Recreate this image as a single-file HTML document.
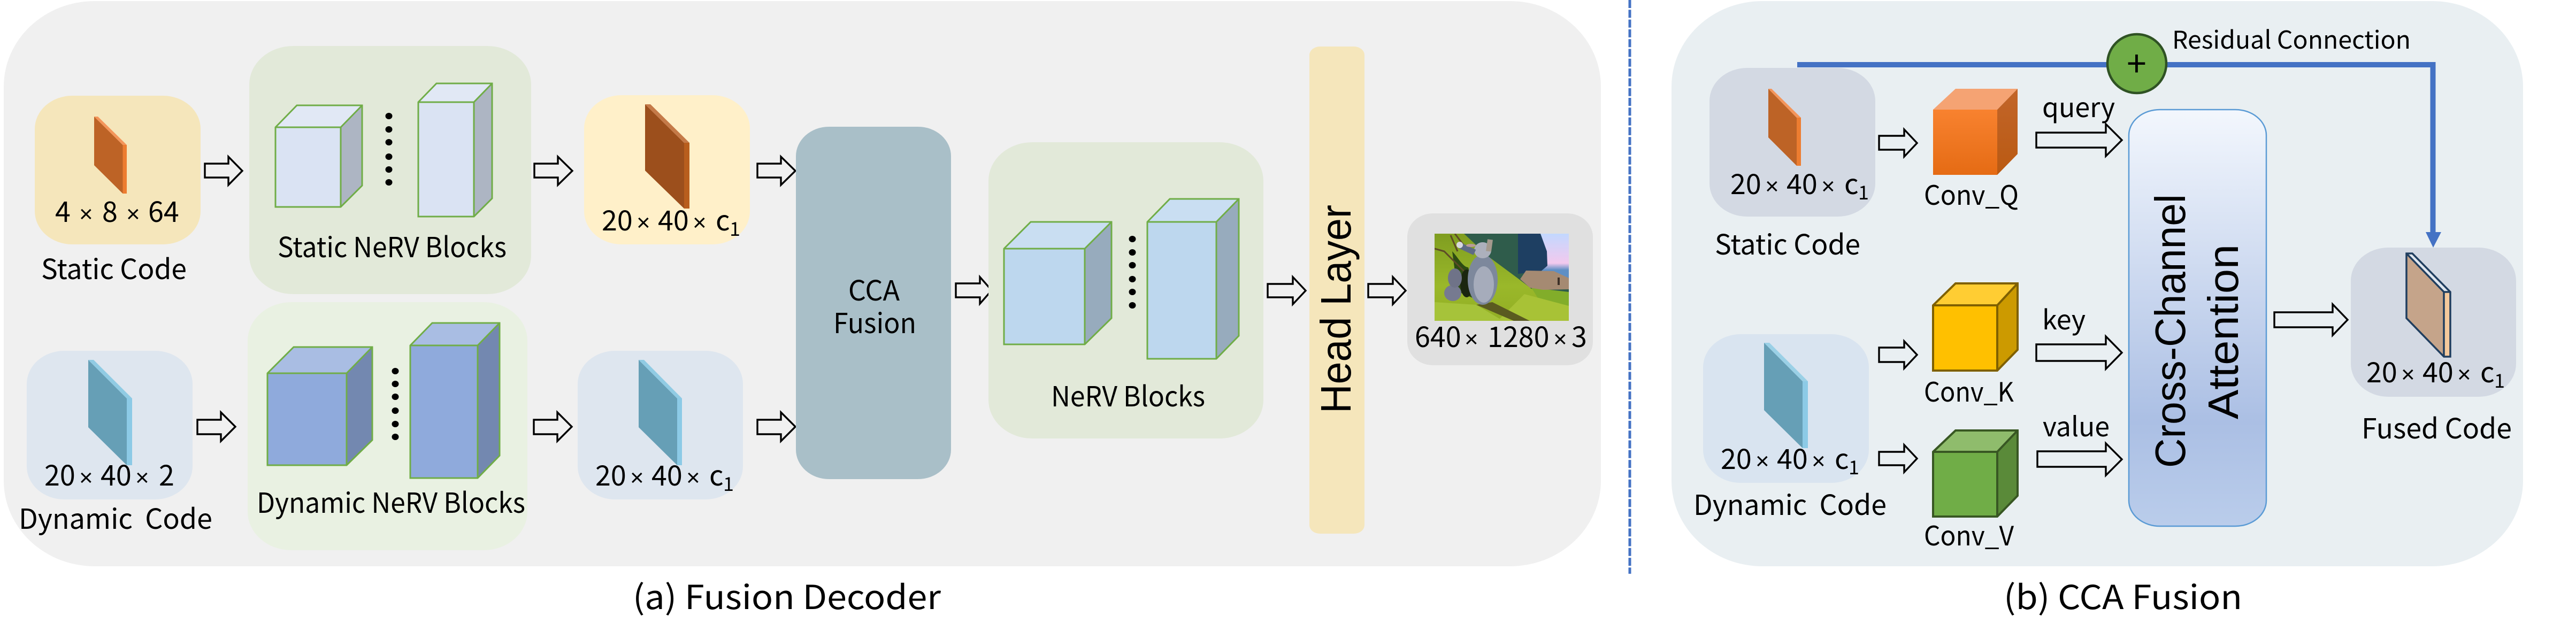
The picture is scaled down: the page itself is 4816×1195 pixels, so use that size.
<!DOCTYPE html>
<html><head><meta charset="utf-8"><style>
html,body{margin:0;padding:0;background:#fff;width:4816px;height:1195px;overflow:hidden}
svg{display:block}
text{font-family:"Noto Sans CJK SC","Liberation Sans",sans-serif;fill:#000;white-space:pre}
.l{font-size:52px}.s{font-size:36px}.m{font-size:50px}.c{font-size:62px}
.x{font-size:44px;font-family:"Liberation Sans",sans-serif}
.r{font-family:"Liberation Sans",sans-serif;font-size:80px}
.a{fill:none;stroke:#000;stroke-width:3.4}
.cg{stroke:#70ad47;stroke-width:3;stroke-linejoin:miter}
</style></head><body>
<svg xmlns="http://www.w3.org/2000/svg" width="4816" height="1195" viewBox="0 0 4816 1195">
<defs>
<linearGradient id="att" x1="0" y1="0" x2="0" y2="1"><stop offset="0" stop-color="#f3f7fd"/><stop offset=".75" stop-color="#abbfe4"/><stop offset="1" stop-color="#bacdeb"/></linearGradient>
<linearGradient id="of" x1="0" y1="0" x2="0" y2="1"><stop offset="0" stop-color="#f8822f"/><stop offset="1" stop-color="#e56b14"/></linearGradient>
<linearGradient id="os" x1="0" y1="0" x2="0" y2="1"><stop offset="0" stop-color="#c2652a"/><stop offset="1" stop-color="#ba5a12"/></linearGradient>
<linearGradient id="sky" x1="0" y1="0" x2="0" y2="1"><stop offset="0" stop-color="#c2d8ff"/><stop offset=".65" stop-color="#f2c9ee"/><stop offset=".8" stop-color="#5f8fc4"/></linearGradient>
<linearGradient id="gr" x1="0" y1="0" x2="0" y2="1"><stop offset="0" stop-color="#7f9d20"/><stop offset=".6" stop-color="#9ab82a"/><stop offset="1" stop-color="#92ae24"/></linearGradient>
<clipPath id="ic"><rect x="2682" y="437" width="251" height="163"/></clipPath>
</defs>

<!-- panel a -->
<rect x="7" y="2" width="2986" height="1057" rx="170" ry="160" fill="#f0f0f0"/>
<rect x="65" y="179" width="310" height="278" rx="70" ry="62" fill="#f5e6bb"/>
<polygon points="176,218 229.500,271 229.500,362 176,309" fill="#bd6326"/>
<polygon points="176,218 183,218 237,271 229.500,271" fill="#f4955a"/>
<polygon points="229.500,271 237,271 237,362 229.500,362" fill="#ed7d31"/>
<text class="l" y="415"><tspan x="103">4</tspan><tspan class="x" x="148">×</tspan><tspan x="191">8</tspan><tspan class="x" x="236">×</tspan><tspan x="277">64</tspan></text>
<text class="l" x="77" y="522" textLength="272" lengthAdjust="spacingAndGlyphs">Static Code</text>
<polygon class="a" points="383,306 427,306 427,293 453,319.500 427,346 427,332 383,332"/>

<rect x="466" y="86" width="527" height="464" rx="82" ry="72" fill="#e2e9d9"/>
<polygon points="515,238 555,197 677,197 637,238" fill="#e1e8f5"/>
<polygon points="637,238 677,197 677,347 637,387" fill="#adb5c3"/>
<rect x="515" y="238" width="122" height="149" fill="#dae3f3"/>
<path class="cg" fill="none" d="M515,238 L555,197 H677 V347 L637,387 H515 Z M515,238 H637 V387 M637,238 L677,197"/>
<polygon points="782,191 816,156 920,156 886,191" fill="#e1e8f5"/>
<polygon points="886,191 920,156 920,371 886,405" fill="#adb5c3"/>
<rect x="782" y="191" width="104" height="214" fill="#dae3f3"/>
<path class="cg" fill="none" d="M782,191 L816,156 H920 V371 L886,405 H782 Z M782,191 H886 V405 M886,191 L920,156"/>
<g fill="#000"><ellipse cx="727" cy="217" rx="6.500" ry="6"/><ellipse cx="727" cy="242" rx="6.500" ry="6"/><ellipse cx="727" cy="266" rx="6.500" ry="6"/><ellipse cx="727" cy="293" rx="6.500" ry="6"/><ellipse cx="727" cy="317" rx="6.500" ry="6"/><ellipse cx="727" cy="341" rx="6.500" ry="6"/></g>
<text class="l" x="519" y="481" textLength="428" lengthAdjust="spacingAndGlyphs">Static NeRV Blocks</text>
<polygon class="a" points="999,306 1043,306 1043,293 1070,319.500 1043,346 1043,332 999,332"/>

<rect x="1092" y="178" width="310" height="279" rx="70" ry="62" fill="#fff0c9"/>
<polygon points="1206,195 1279,267 1279,390 1206,319" fill="#9c4f1c"/>
<polygon points="1206,195 1216,195 1289,267 1279,267" fill="#c57a48"/>
<polygon points="1279,267 1289,267 1289,390 1279,390" fill="#b85e1d"/>
<text class="l" y="431"><tspan x="1125">20</tspan><tspan class="x" x="1190">×</tspan><tspan x="1230">40</tspan><tspan class="x" x="1295">×</tspan><tspan x="1338">c</tspan></text>
<text class="s" x="1364" y="441">1</text>
<polygon class="a" points="1416,306 1460,306 1460,293 1487,319.500 1460,346 1460,332 1416,332"/>

<rect x="50" y="656" width="310" height="278" rx="70" ry="62" fill="#dee6ef"/>
<polygon points="165,673 237,745 237,870 165,799" fill="#669fb6"/>
<polygon points="165,673 175,673 247,745 237,745" fill="#90cbe3"/>
<polygon points="237,745 247,745 247,870 237,870" fill="#8ccae6"/>
<text class="l" y="908"><tspan x="83">20</tspan><tspan class="x" x="148">×</tspan><tspan x="188">40</tspan><tspan class="x" x="253">×</tspan><tspan x="297">2</tspan></text>
<text class="l" x="35" y="989" textLength="362" lengthAdjust="spacingAndGlyphs">Dynamic  Code</text>
<polygon class="a" points="369,785 413,785 413,771 440,798 413,825 413,812 369,812"/>

<rect x="463" y="565" width="523" height="464" rx="82" ry="72" fill="#e9f1e2"/>
<polygon points="500,698 549,649 696,649 648,698" fill="#a9bde3"/>
<polygon points="648,698 696,649 696,823 648,870" fill="#7388b0"/>
<rect x="500" y="698" width="148" height="172" fill="#8faadc"/>
<path class="cg" fill="none" d="M500,698 L549,649 H696 V823 L648,870 H500 Z M500,698 H648 V870 M648,698 L696,649"/>
<polygon points="767,646 808,604 934,604 893,646" fill="#a9bde3"/>
<polygon points="893,646 934,604 934,852 893,894" fill="#7388b0"/>
<rect x="767" y="646" width="126" height="248" fill="#8faadc"/>
<path class="cg" fill="none" d="M767,646 L808,604 H934 V852 L893,894 H767 Z M767,646 H893 V894 M893,646 L934,604"/>
<g fill="#000"><ellipse cx="739" cy="694" rx="6.500" ry="6"/><ellipse cx="739" cy="718" rx="6.500" ry="6"/><ellipse cx="739" cy="742" rx="6.500" ry="6"/><ellipse cx="739" cy="768" rx="6.500" ry="6"/><ellipse cx="739" cy="793" rx="6.500" ry="6"/><ellipse cx="739" cy="817" rx="6.500" ry="6"/></g>
<text class="l" x="480" y="959" textLength="502" lengthAdjust="spacingAndGlyphs">Dynamic NeRV Blocks</text>
<polygon class="a" points="998,785 1042,785 1042,771 1069,798 1042,825 1042,812 998,812"/>

<rect x="1080" y="656" width="309" height="278" rx="70" ry="62" fill="#dee6ef"/>
<polygon points="1194,673 1266,745 1266,870 1194,799" fill="#669fb6"/>
<polygon points="1194,673 1204,673 1275,745 1266,745" fill="#90cbe3"/>
<polygon points="1266,745 1275,745 1275,870 1266,870" fill="#8ccae6"/>
<text class="l" y="908"><tspan x="1113">20</tspan><tspan class="x" x="1178">×</tspan><tspan x="1218">40</tspan><tspan class="x" x="1283">×</tspan><tspan x="1326">c</tspan></text>
<text class="s" x="1352" y="918">1</text>
<polygon class="a" points="1416,785 1460,785 1460,771 1487,798 1460,825 1460,812 1416,812"/>

<rect x="1488" y="237" width="290" height="659" rx="62" ry="55" fill="#a9bfc8"/>
<text class="l" x="1634" y="562" text-anchor="middle">CCA</text>
<text class="l" x="1558" y="623" textLength="155" lengthAdjust="spacingAndGlyphs">Fusion</text>
<polygon class="a" points="1787,530 1832,530 1832,518 1854,543 1832,568 1832,556 1787,556"/>

<rect x="1848" y="266" width="514" height="554" rx="82" ry="72" fill="#e2e9d9"/>
<polygon points="1877,465 1927,415 2078,415 2028,465" fill="#c9def2"/>
<polygon points="2028,465 2078,415 2078,595 2028,644" fill="#97abbd"/>
<rect x="1877" y="465" width="151" height="179" fill="#bdd7ee"/>
<path class="cg" fill="none" d="M1877,465 L1927,415 H2078 V595 L2028,644 H1877 Z M1877,465 H2028 V644 M2028,465 L2078,415"/>
<polygon points="2145,415 2187,372 2316,372 2274,415" fill="#c9def2"/>
<polygon points="2274,415 2316,372 2316,628 2274,671" fill="#97abbd"/>
<rect x="2145" y="415" width="129" height="256" fill="#bdd7ee"/>
<path class="cg" fill="none" d="M2145,415 L2187,372 H2316 V628 L2274,671 H2145 Z M2145,415 H2274 V671 M2274,415 L2316,372"/>
<g fill="#000"><ellipse cx="2117" cy="447" rx="6.500" ry="6"/><ellipse cx="2117" cy="472" rx="6.500" ry="6"/><ellipse cx="2117" cy="496" rx="6.500" ry="6"/><ellipse cx="2117" cy="522" rx="6.500" ry="6"/><ellipse cx="2117" cy="546" rx="6.500" ry="6"/><ellipse cx="2117" cy="571" rx="6.500" ry="6"/></g>
<text class="l" x="1965" y="760" textLength="288" lengthAdjust="spacingAndGlyphs">NeRV Blocks</text>
<polygon class="a" points="2370,531 2417,531 2417,518 2441,543.500 2417,569 2417,556 2370,556"/>

<rect x="2448" y="87" width="103" height="911" rx="20" ry="16" fill="#f5e6bb"/>
<text class="r" transform="translate(2525,773) rotate(-90)" x="0" y="0" textLength="390" lengthAdjust="spacingAndGlyphs">Head Layer</text>
<polygon class="a" points="2558,531 2604,531 2604,518 2628,543.500 2604,569 2604,556 2558,556"/>

<rect x="2631" y="399" width="347" height="284" rx="48" ry="44" fill="#e0e0e0"/>
<g clip-path="url(#ic)">
<rect x="2682" y="437" width="251" height="163" fill="#2f5c4b"/>
<rect x="2880" y="437" width="53" height="85" fill="url(#sky)"/>
<path d="M2838,437 H2880 L2892,470 L2893,497 L2880,508 L2838,512 Z" fill="#1e3f62"/>
<polygon points="2682,437 2737,437 2783,480 2837,520 2863,540 2933,553 2933,600 2682,600" fill="url(#gr)"/>
<polygon points="2863,538 2933,546 2933,580 2880,565" fill="#82ad2a"/>
<polygon points="2682,565 2760,570 2810,600 2682,600" fill="#a6c33a"/>
<polygon points="2800,600 2850,550 2933,572 2933,600" fill="#a8c236"/>
<polygon points="2760,570 2790,565 2860,600 2830,600" fill="#5a5a20"/>
<path d="M2715,470 C2725,480 2735,500 2745,500 L2760,560 L2725,545 Z" fill="#2d4c12"/>
<path d="M2720,437 L2745,470 M2712,440 L2725,470 M2682,465 L2700,470 L2740,510" stroke="#5d4a28" stroke-width="3" fill="none"/>
<path d="M2842,522 L2853,506 L2905,507 L2933,520 V541 L2885,542 L2860,538 Z" fill="#a58a72"/>
<rect x="2912" y="519" width="4" height="14" fill="#3d3028"/>
<ellipse cx="2742" cy="530" rx="12" ry="26" fill="#1b260f"/>
<ellipse cx="2716" cy="548" rx="16" ry="15" fill="#767a90"/>
<ellipse cx="2720" cy="520" rx="13" ry="18" fill="#6f7388"/>
<ellipse cx="2772" cy="523" rx="28" ry="47" fill="#7d889c"/>
<ellipse cx="2774" cy="532" rx="19" ry="34" fill="#a6acbb"/>
<ellipse cx="2772" cy="468" rx="16" ry="15" fill="#acb0bc"/>
<line x1="2757" y1="472" x2="2729" y2="459" stroke="#5e6b84" stroke-width="11"/>
<line x1="2783" y1="470" x2="2786" y2="448" stroke="#a49a8e" stroke-width="10"/>
<circle cx="2729" cy="458" r="6" fill="#d8d8e0"/>
<ellipse cx="2750" cy="459" rx="9" ry="3" fill="#b89a9a"/>
</g>
<text class="l" y="649"><tspan x="2645">640</tspan><tspan class="x" x="2738">×</tspan><tspan x="2781">1280</tspan><tspan class="x" x="2904">×</tspan><tspan x="2938">3</tspan></text>

<text class="c" x="1183" y="1139" textLength="576" lengthAdjust="spacingAndGlyphs">(a) Fusion Decoder</text>

<!-- divider -->
<line x1="3047" y1="0" x2="3047" y2="1073" stroke="#4472c4" stroke-width="5" stroke-dasharray="15 3.300"/>

<!-- panel b -->
<rect x="3125" y="2" width="1592" height="1057" rx="170" ry="160" fill="#e9eff2"/>
<rect x="3196" y="127" width="310" height="278" rx="70" ry="62" fill="#d3d9e3"/>
<polygon points="3306,166 3359,220 3359,310 3306,257" fill="#bd6326"/>
<polygon points="3306,166 3312,166 3367,220 3359,220" fill="#f4955a"/>
<polygon points="3359,220 3367,220 3367,310 3359,310" fill="#ed7d31"/>
<text class="l" y="363"><tspan x="3235">20</tspan><tspan class="x" x="3300">×</tspan><tspan x="3340">40</tspan><tspan class="x" x="3405">×</tspan><tspan x="3448">c</tspan></text>
<text class="s" x="3474" y="373">1</text>
<text class="l" x="3206" y="476" textLength="272" lengthAdjust="spacingAndGlyphs">Static Code</text>
<polygon class="a" points="3513,254 3560,254 3560,242 3584,267.500 3560,293 3560,280 3513,280"/>

<polygon points="3614,205 3656,166 3772,166 3734,205" fill="#f5a373"/>
<polygon points="3734,205 3772,166 3772,288 3734,327" fill="url(#os)"/>
<rect x="3614" y="205" width="120" height="122" fill="url(#of)"/>
<text class="m" x="3597" y="383" textLength="177" lengthAdjust="spacingAndGlyphs">Conv_Q</text>
<text class="m" x="3818" y="219" textLength="136" lengthAdjust="spacingAndGlyphs">query</text>
<polygon class="a" points="3807,248 3937,248 3937,232 3967,262 3937,292 3937,276 3807,276"/>

<polygon class="a" points="3513,650 3560,650 3560,638 3584,663.500 3560,689 3560,677 3513,677"/>
<polygon points="3614,571 3656,530 3772,530 3734,571" fill="#ffcd33"/>
<polygon points="3734,571 3772,530 3772,654 3734,693" fill="#cc9a00"/>
<rect x="3614" y="571" width="120" height="122" fill="#ffc000"/>
<path fill="none" stroke="#7f6000" stroke-width="4" d="M3614,571 L3656,530 H3772 V654 L3734,693 H3614 Z M3614,571 H3734 V693 M3734,571 L3772,530"/>
<text class="m" x="3597" y="751" textLength="168" lengthAdjust="spacingAndGlyphs">Conv_K</text>
<text class="m" x="3818" y="616" textLength="81" lengthAdjust="spacingAndGlyphs">key</text>
<polygon class="a" points="3807,644 3937,644 3937,629 3967,659.500 3937,690 3937,675 3807,675"/>

<polygon class="a" points="3513,845 3560,845 3560,832 3584,857.500 3560,883 3560,870 3513,870"/>
<polygon points="3614,845 3656,805 3772,805 3734,845" fill="#8fbc6c"/>
<polygon points="3734,845 3772,805 3772,927 3734,966" fill="#5a8a39"/>
<rect x="3614" y="845" width="120" height="121" fill="#70ad47"/>
<path fill="none" stroke="#385723" stroke-width="4" d="M3614,845 L3656,805 H3772 V927 L3734,966 H3614 Z M3614,845 H3734 V966 M3734,845 L3772,805"/>
<text class="m" x="3597" y="1020" textLength="168" lengthAdjust="spacingAndGlyphs">Conv_V</text>
<text class="m" x="3819" y="816" textLength="125" lengthAdjust="spacingAndGlyphs">value</text>
<polygon class="a" points="3809,844 3937,844 3937,829 3967,859 3937,889 3937,873 3809,873"/>

<rect x="3184" y="625" width="310" height="278" rx="70" ry="62" fill="#d9e4f0"/>
<polygon points="3298,641 3370,713 3370,838 3298,767" fill="#669fb6"/>
<polygon points="3298,641 3308,641 3380,713 3370,713" fill="#9ad0e6"/>
<polygon points="3370,713 3380,713 3380,838 3370,838" fill="#8ccae6"/>
<text class="l" y="877"><tspan x="3217">20</tspan><tspan class="x" x="3282">×</tspan><tspan x="3322">40</tspan><tspan class="x" x="3387">×</tspan><tspan x="3430">c</tspan></text>
<text class="s" x="3456" y="887">1</text>
<text class="l" x="3166" y="963" textLength="361" lengthAdjust="spacingAndGlyphs">Dynamic  Code</text>

<rect x="3980" y="205" width="257" height="779" rx="58" ry="48" fill="url(#att)" stroke="#5b9bd5" stroke-width="2.500"/>
<text class="r" transform="translate(4085,875) rotate(-90)" x="0" y="0" textLength="512" lengthAdjust="spacingAndGlyphs">Cross-Channel</text>
<text class="r" transform="translate(4184,784) rotate(-90)" x="0" y="0" textLength="327" lengthAdjust="spacingAndGlyphs">Attention</text>
<polygon class="a" points="4252,584 4361,584 4361,569 4389,598 4361,627 4361,612 4252,612"/>

<rect x="4395" y="463" width="309" height="279" rx="70" ry="62" fill="#d3d9e3"/>
<polygon points="4499,474 4569,546 4569,667 4499,595" fill="#c5a48a"/>
<polygon points="4499,474 4510,474 4581,546 4569,546" fill="#dfe6ee"/>
<polygon points="4569,546 4581,546 4581,667 4569,667" fill="#f4c99c"/>
<path fill="none" stroke="#203e5f" stroke-width="3.500" d="M4499,474 H4510 L4581,546 V667 H4569 L4499,595 Z M4499,474 L4569,546 H4581 M4569,546 V667"/>
<text class="l" y="715"><tspan x="4424">20</tspan><tspan class="x" x="4489">×</tspan><tspan x="4529">40</tspan><tspan class="x" x="4594">×</tspan><tspan x="4637">c</tspan></text>
<text class="s" x="4663" y="725">1</text>
<text class="l" x="4415" y="820" textLength="281" lengthAdjust="spacingAndGlyphs">Fused Code</text>

<path d="M3360,121 H4548.500 V440" fill="none" stroke="#4472c4" stroke-width="10"/>
<polygon points="4535,434 4564,434 4549,463" fill="#4472c4"/>
<circle cx="3995" cy="119" r="55" fill="#70ad47" stroke="#2f5224" stroke-width="4.500"/>
<text x="3994.500" y="143" text-anchor="middle" style="font-size:66px">+</text>
<text x="4061" y="91" style="font-size:46px" textLength="446" lengthAdjust="spacingAndGlyphs">Residual Connection</text>

<text class="c" x="3746" y="1139" textLength="446" lengthAdjust="spacingAndGlyphs">(b) CCA Fusion</text>
</svg>
</body></html>
